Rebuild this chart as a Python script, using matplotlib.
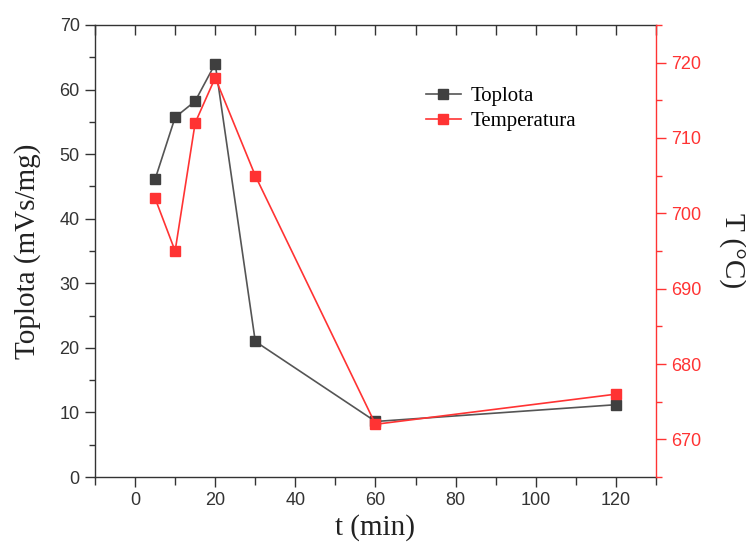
import matplotlib as mpl
mpl.use('Agg')
import matplotlib.pyplot as plt
from matplotlib.ticker import MultipleLocator

# data
t_min = [5, 10, 15, 20, 30, 60, 120]
toplota = [46.1, 55.7, 58.2, 64.0, 21.0, 8.6, 11.2]
temperatura = [702, 695, 712, 718, 705, 672, 676]

gray = '#3f3f3f'
red = '#ff3333'

plt.rcParams['font.family'] = 'Liberation Sans'
plt.rcParams['axes.linewidth'] = 1.0

fig = plt.figure(figsize=(7.46, 5.49), dpi=100)
ax = fig.add_axes([0.1273, 0.1311, 0.7521, 0.8234])
ax2 = ax.twinx()

l1, = ax.plot(t_min, toplota, color='#555555', lw=1.2, marker='s', ms=6.5,
              mfc=gray, mec=gray, label='Toplota', zorder=3)
l2, = ax2.plot(t_min, temperatura, color=red, lw=1.2, marker='s', ms=6.5,
               mfc=red, mec=red, label='Temperatura', zorder=3)

ax.set_xlim(-10, 130)
ax.set_ylim(0, 70)
ax2.set_ylim(665, 725)

ax.xaxis.set_major_locator(MultipleLocator(20))
ax.xaxis.set_minor_locator(MultipleLocator(10))
ax.yaxis.set_major_locator(MultipleLocator(10))
ax.yaxis.set_minor_locator(MultipleLocator(5))
ax2.yaxis.set_major_locator(MultipleLocator(10))
ax2.yaxis.set_minor_locator(MultipleLocator(5))

for s in ['left', 'bottom', 'top']:
    ax.spines[s].set_color('#333333')
ax.spines['right'].set_visible(False)
for s in ['left', 'bottom', 'top']:
    ax2.spines[s].set_visible(False)
ax2.spines['right'].set_color(red)

ax.tick_params(axis='both', which='major', direction='out', length=7, width=1.0,
               color='#333333', labelsize=13, labelcolor='#333333', pad=4)
ax.tick_params(axis='both', which='minor', direction='out', length=4, width=1.0,
               color='#333333')
ax.tick_params(axis='x', which='minor', length=6)
# top ticks point inward, drawn by a secondary axis
axt = ax.secondary_xaxis('top')
axt.xaxis.set_major_locator(MultipleLocator(10))
axt.tick_params(axis='x', direction='in', length=7, width=1.0, color='#333333',
                labeltop=False)
axt.spines['top'].set_visible(False)

ax2.tick_params(axis='y', which='major', direction='out', length=7, width=1.0,
                color=red, labelsize=13, labelcolor=red, pad=4)
ax2.tick_params(axis='y', which='minor', direction='out', length=4, width=1.0,
                color=red)

ax.set_xlabel('t (min)', fontsize=21, family='Liberation Serif', color='#222222')
ax.set_ylabel('Toplota (mVs/mg)', fontsize=21, family='Liberation Serif',
              color='#222222')
ax2.set_ylabel('T (°C)', fontsize=21, family='Liberation Serif', color='#222222',
               rotation=270)
ax.xaxis.set_label_coords(0.5, -0.082)
ax.yaxis.set_label_coords(-0.096, 0.5)
ax2.yaxis.set_label_coords(1.160, 0.5)

ax.legend([l1, l2], ['Toplota', 'Temperatura'], loc='upper left',
          bbox_to_anchor=(0.556, 0.905), frameon=False, handlelength=1.7,
          handletextpad=0.45, labelspacing=0.25,
          prop={'family': 'Liberation Serif', 'size': 15})

plt.savefig('out.png', dpi=100)
